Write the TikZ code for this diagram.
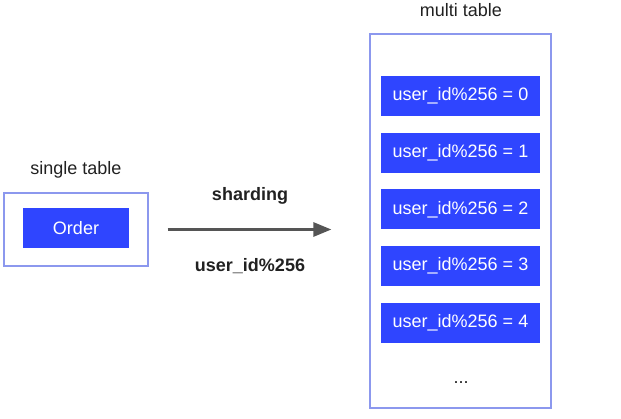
\documentclass[tikz,border=0pt]{standalone}
\usepackage{fontspec}
\setmainfont{Liberation Sans}
\usetikzlibrary{arrows.meta}
\definecolor{tblblue}{HTML}{2F45FF}
\definecolor{tblframe}{HTML}{8C98EE}
\definecolor{arrowgray}{HTML}{555555}

\begin{document}
\begin{tikzpicture}[x=1pt,y=-1pt,
  every node/.style={font=\fontsize{18}{20}\selectfont, text=black!87},
  frame/.style={draw=tblframe, line width=1.2pt, fill=white, inner sep=0pt},
  tbl/.style={fill=tblblue, draw=none, text=white, inner sep=0pt,
    minimum height=40pt},
  lbl/.style={font=\fontsize{18}{20}\selectfont\bfseries}]

  \useasboundingbox (0,0) rectangle (621,419);

  % left side
  \node[frame, minimum width=144pt, minimum height=73pt] (single) at (76,229.5) {};
  \node (singlelabel) at (76,170) {single table};
  \node[tbl, minimum width=106pt] (order) at (76,228.5) {Order};

  % right side
  \node[frame, minimum width=181pt, minimum height=374pt] (multi) at (460.5,221) {};
  \node (multilabel) at (461,10) {multi table};
  \foreach \i in {0,...,4}
    \node[tbl, minimum width=159pt] (shard\i) at (460.5,96+56.75*\i) {user\_id\%256 = \i};
  \node (dots) at (461,383) {...};

  % arrow
  \draw[arrowgray, line width=2.8pt, -{Triangle[length=18pt,width=14pt]},
    shorten <=19pt, shorten >=38pt] (single.east) -- (multi.west |- single.east);
  \node[lbl] (shardlabel) at (250,196) {sharding};
  \node[lbl] (keylabel) at (250,266) {user\_id\%256};
\end{tikzpicture}
\end{document}
